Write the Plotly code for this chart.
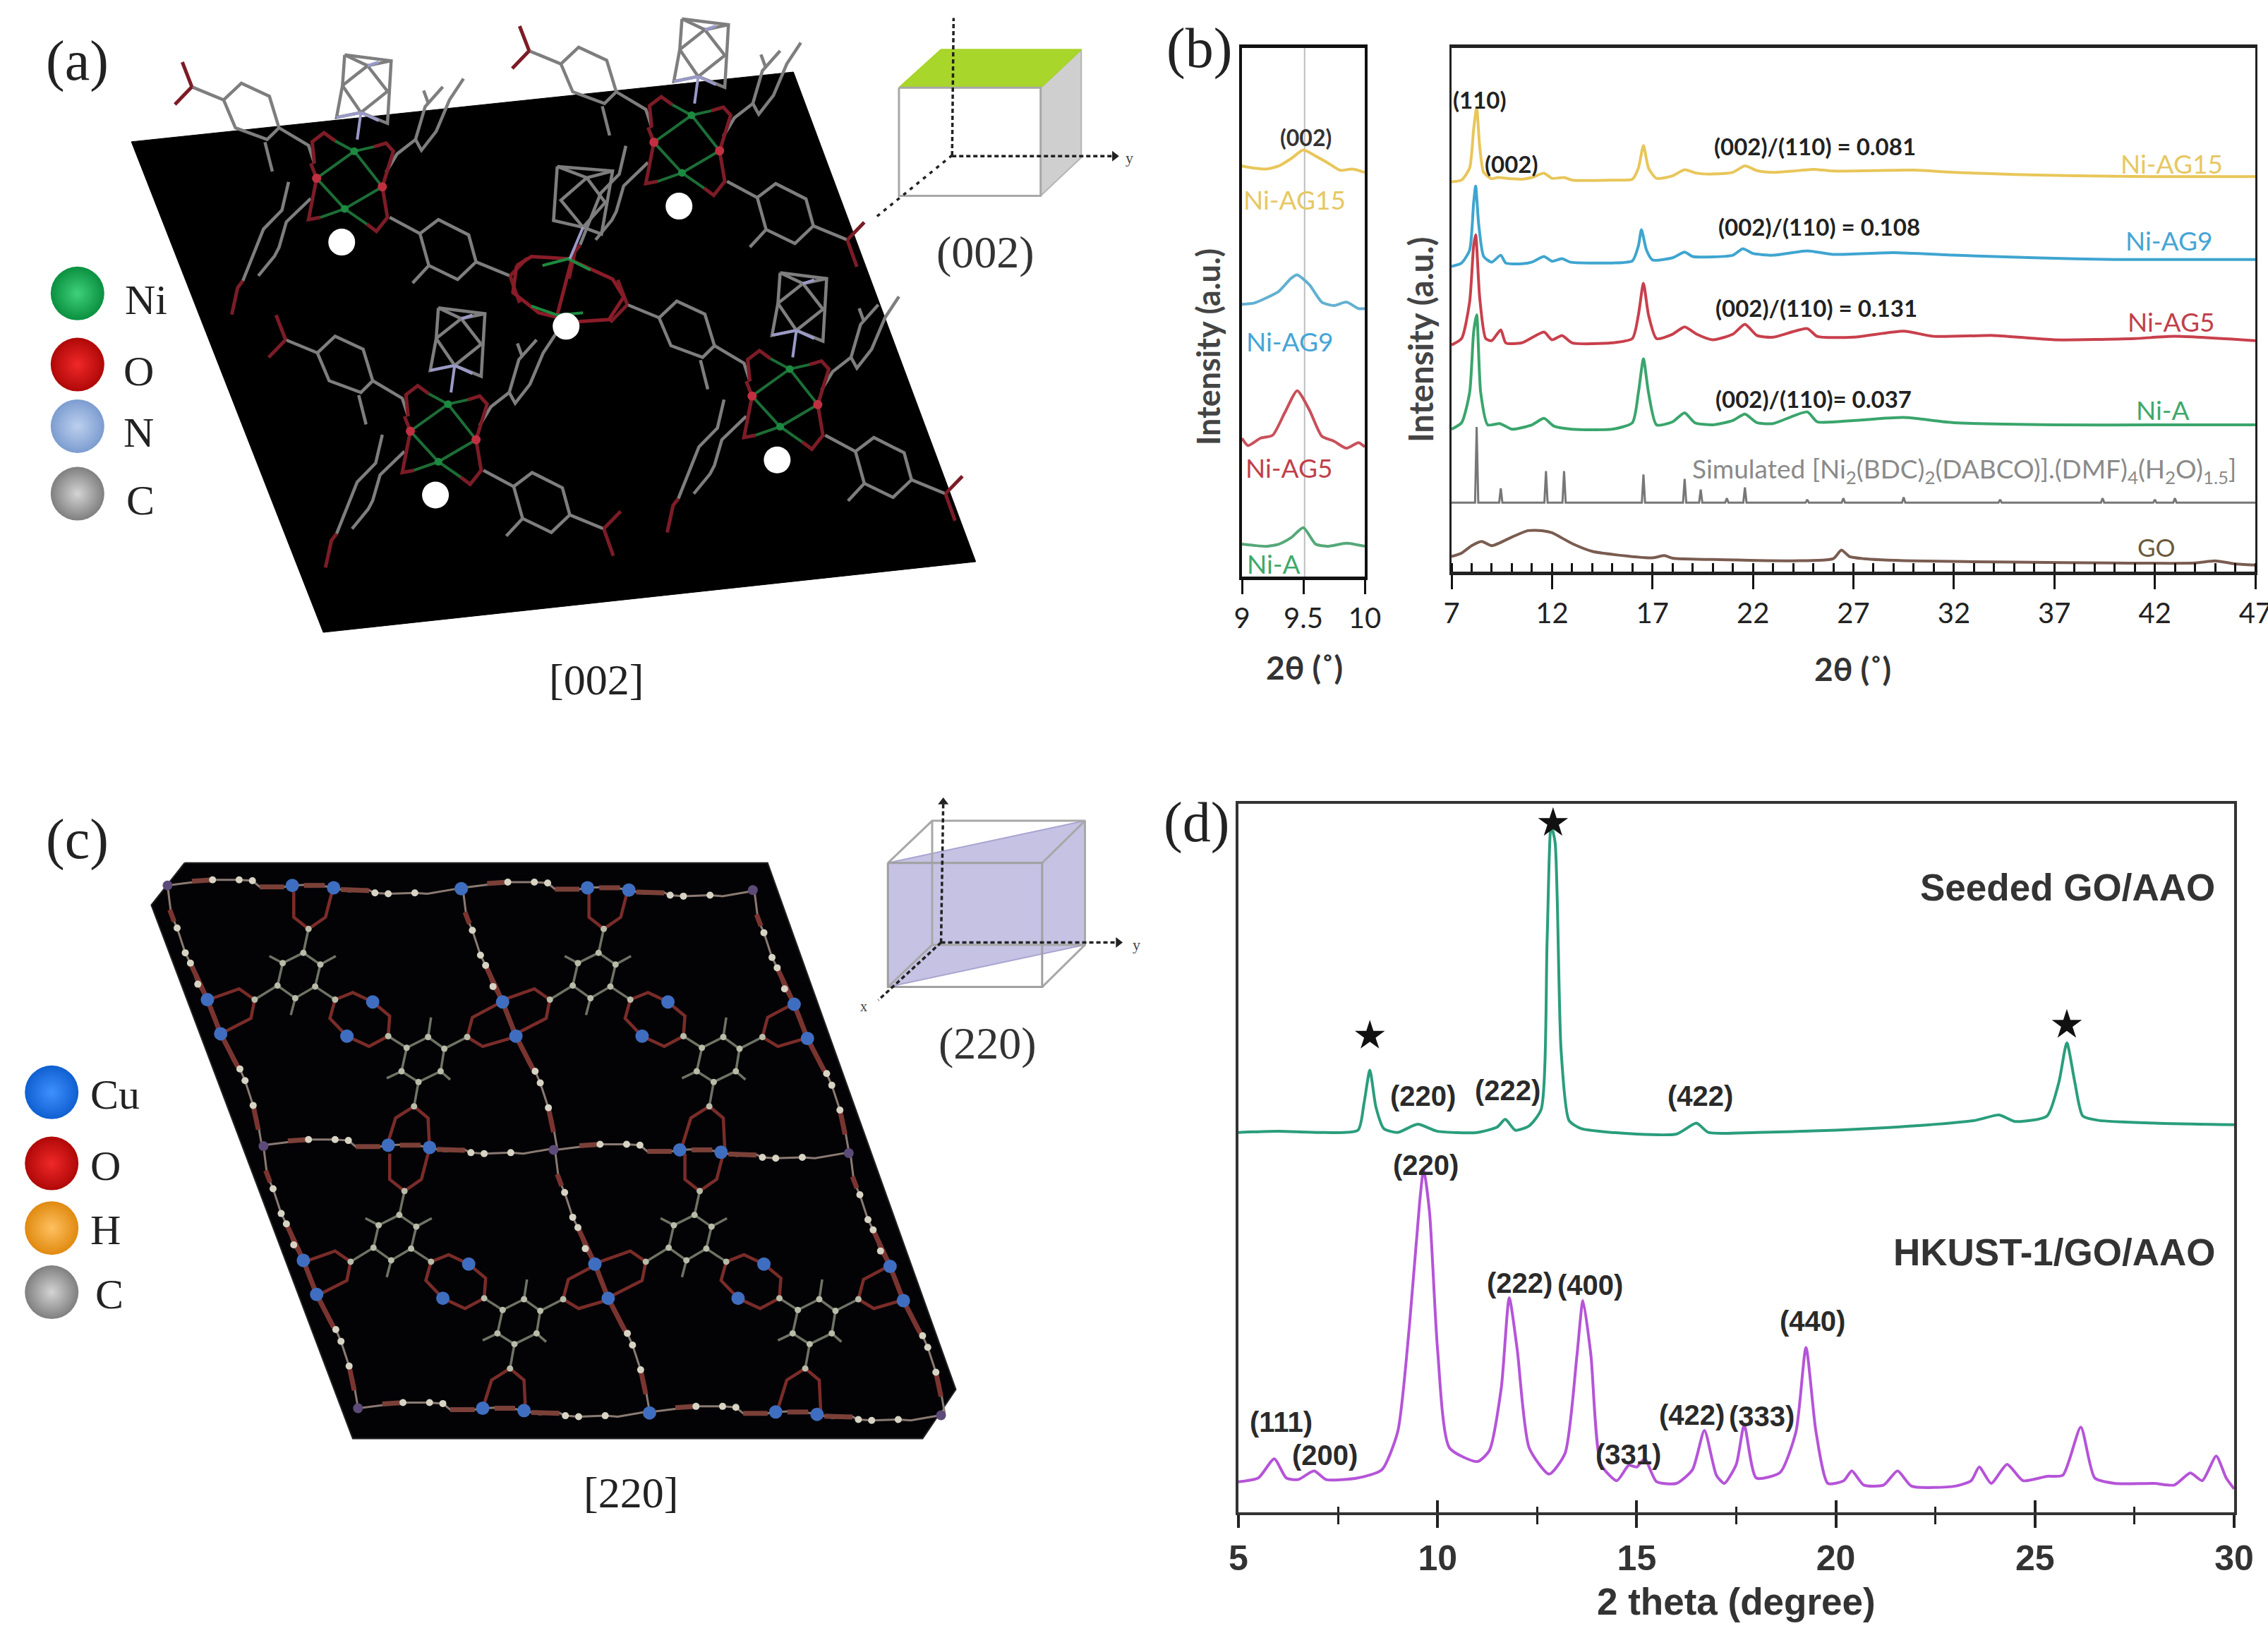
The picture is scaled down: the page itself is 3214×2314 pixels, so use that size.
import plotly.graph_objects as go

W, H = 3214, 2314

# ---------- panel (b), left inset: 2-theta / picture-row readings ----------
bl_ag15_x = [9, 9.1, 9.2, 9.3, 9.4, 9.5, 9.6, 9.7, 9.8, 9.9, 10]
bl_ag15_y = [335, 340, 342, 335, 318, 298, 312, 328, 345, 342, 350]
bl_ag9_x = [9, 9.1, 9.2, 9.3, 9.4, 9.45, 9.55, 9.65, 9.75, 9.85, 9.95, 10]
bl_ag9_y = [655, 652, 640, 625, 595, 587, 610, 650, 658, 650, 665, 665]
bl_ag5_x = [9, 9.05, 9.15, 9.25, 9.35, 9.45, 9.55, 9.65, 9.75, 9.85, 9.95, 10]
bl_ag5_y = [965, 982, 965, 958, 905, 855, 900, 960, 972, 988, 975, 985]
bl_a_x = [9, 9.1, 9.2, 9.3, 9.4, 9.5, 9.6, 9.7, 9.85, 10]
bl_a_y = [1210, 1213, 1215, 1210, 1195, 1172, 1210, 1215, 1208, 1215]
bl_tick_vals = [9, 9.5, 10]
bl_tick_text = ["9", "9.5", "10"]

# ---------- panel (b), main ----------
br_ag15_x = [7, 7.5, 7.9, 8.1, 8.25, 8.4, 8.6, 9, 9.3, 10, 10.5, 11, 11.6, 12, 12.6, 13, 15, 16, 16.3, 16.55, 16.8, 17.2, 18, 18.6, 19.2, 20, 21, 21.6, 22.2, 23, 24.5, 25, 26, 28, 30, 32, 35, 38, 42, 47]
br_ag15_y = [372, 368, 340, 250, 200, 290, 350, 365, 362, 365, 366, 362, 352, 364, 362, 368, 368, 366, 340, 288, 340, 364, 358, 344, 352, 354, 350, 335, 346, 350, 345, 343, 347, 346, 345, 350, 355, 358, 360, 360]
br_ag9_x = [7, 7.5, 7.9, 8.1, 8.2, 8.35, 8.6, 9, 9.45, 9.7, 10.5, 11, 11.6, 12, 12.5, 12.9, 15, 16, 16.3, 16.45, 16.7, 17, 18, 18.6, 19, 20, 21, 21.5, 22, 23, 24.7, 26, 29, 32, 36, 40, 47]
br_ag9_y = [568, 560, 530, 420, 382, 470, 545, 558, 542, 560, 562, 558, 545, 556, 550, 558, 560, 555, 520, 483, 530, 553, 548, 535, 545, 546, 542, 527, 538, 542, 532, 540, 536, 542, 548, 552, 552]
br_ag5_x = [7, 7.5, 7.9, 8.1, 8.2, 8.4, 8.7, 9, 9.45, 9.7, 10.5, 11.6, 12, 12.5, 13, 15, 16, 16.3, 16.55, 16.8, 17.2, 18, 18.6, 19.2, 20, 21, 21.6, 22.2, 23, 24.7, 25.2, 27, 29.5, 31, 34, 37, 41, 43, 47]
br_ag5_y = [750, 735, 650, 520, 495, 640, 735, 740, 715, 745, 745, 720, 738, 728, 745, 745, 735, 680, 607, 680, 735, 725, 708, 725, 738, 725, 702, 728, 732, 712, 730, 732, 718, 730, 728, 738, 735, 730, 740]
br_a_x = [7, 7.5, 7.9, 8.1, 8.25, 8.45, 8.8, 9.4, 10, 11, 11.6, 12.1, 13, 15, 16, 16.3, 16.55, 16.8, 17.2, 18, 18.6, 19.1, 20, 21, 21.6, 22.2, 23, 24.7, 25.2, 27, 29.5, 32, 37, 42, 47]
br_a_y = [945, 930, 860, 720, 680, 860, 935, 932, 945, 935, 920, 938, 945, 945, 930, 860, 782, 860, 935, 928, 907, 930, 935, 925, 910, 930, 932, 905, 928, 925, 918, 930, 935, 935, 935]
br_sim_x = [7, 8.17, 8.25, 8.33, 9.37, 9.45, 9.53, 11.62, 11.7, 11.78, 12.52, 12.6, 12.68, 16.47, 16.55, 16.63, 18.52, 18.6, 18.68, 19.32, 19.4, 19.48, 20.62, 20.7, 20.78, 21.52, 21.6, 21.68, 24.62, 24.7, 24.78, 26.42, 26.5, 26.58, 29.42, 29.5, 29.58, 34.22, 34.3, 34.38, 39.32, 39.4, 39.48, 41.92, 42, 42.08, 42.92, 43, 43.08, 47]
br_sim_y = [1115, 1115, 940, 1115, 1115, 1082, 1115, 1115, 1042, 1115, 1115, 1042, 1115, 1115, 1050, 1115, 1115, 1060, 1115, 1115, 1085, 1115, 1115, 1105, 1115, 1115, 1080, 1115, 1115, 1108, 1115, 1115, 1105, 1115, 1115, 1103, 1115, 1115, 1108, 1115, 1115, 1105, 1115, 1115, 1108, 1115, 1115, 1105, 1115, 1115]
br_go_x = [7, 7.5, 8, 8.5, 9, 10, 10.8, 11.5, 12, 13, 14, 15, 17, 17.6, 18, 20, 24, 26, 26.4, 26.8, 27.5, 30, 35, 40, 44, 45, 46, 47]
br_go_y = [1240, 1232, 1215, 1205, 1215, 1195, 1180, 1180, 1185, 1210, 1228, 1235, 1243, 1238, 1244, 1247, 1250, 1245, 1225, 1240, 1245, 1250, 1253, 1255, 1255, 1250, 1257, 1260]
br_tick_vals = [7, 12, 17, 22, 27, 32, 37, 42, 47]

# ---------- panel (d) ----------
d_seed_x = [5, 6, 7, 8, 8.15, 8.3, 8.45, 8.65, 9, 9.5, 10, 11, 11.5, 11.7, 11.95, 12.3, 12.6, 12.75, 12.85, 12.95, 13.1, 13.3, 13.6, 15, 16, 16.5, 16.8, 18, 20, 22, 23.5, 24.1, 24.5, 25.3, 25.6, 25.8, 26, 26.2, 26.6, 28, 30]
d_seed_y = [652, 650, 652, 648, 600, 538, 605, 645, 652, 637, 650, 652, 642, 628, 648, 640, 610, 300, 90, 120, 500, 630, 645, 655, 655, 635, 652, 652, 648, 640, 630, 620, 632, 622, 560, 488, 560, 622, 630, 635, 638]
d_hk_x = [5, 5.5, 5.9, 6.2, 6.5, 6.9, 7.2, 8, 8.6, 9, 9.3, 9.55, 9.65, 9.8, 10, 10.3, 11, 11.3, 11.6, 11.8, 12, 12.3, 12.8, 13.2, 13.5, 13.65, 13.85, 14.1, 14.5, 14.8, 15, 15.2, 15.5, 16, 16.4, 16.7, 17, 17.2, 17.5, 17.7, 18, 18.6, 19, 19.25, 19.5, 19.8, 20.2, 20.4, 20.7, 21.2, 21.55, 21.9, 23, 23.4, 23.6, 23.9, 24.3, 24.7, 25.3, 25.7, 26.15, 26.5, 27, 28, 28.5, 28.9, 29.2, 29.55, 29.8, 30]
d_hk_y = [1292, 1285, 1250, 1285, 1288, 1272, 1288, 1285, 1270, 1200, 1000, 780, 720, 800, 1050, 1230, 1255, 1235, 1120, 955, 1050, 1230, 1278, 1240, 1060, 960, 1060, 1260, 1290, 1262, 1265, 1250, 1292, 1295, 1270, 1198, 1280, 1295, 1260, 1188, 1285, 1275, 1200, 1046, 1200, 1295, 1290, 1272, 1298, 1298, 1272, 1300, 1300, 1290, 1265, 1295, 1260, 1290, 1282, 1280, 1192, 1285, 1295, 1295, 1298, 1276, 1290, 1245, 1285, 1305]
d_star_x = [8.3, 12.9, 25.8]
d_star_y = [475, 85, 455]
d_tick_vals = [5, 10, 15, 20, 25, 30]
d_labels = ["(220)", "(222)", "(422)", "(220)", "(222)", "(400)", "(440)", "(111)", "(200)", "(331)", "(422)", "(333)"]
d_labels_x = [9.63, 11.76, 16.6, 9.7, 12.06, 13.84, 19.41, 6.07, 7.17, 14.79, 16.39, 18.13]
d_labels_y = [585, 575, 585, 712, 928, 932, 998, 1183, 1243, 1242, 1170, 1172]

# ---------- panel (a) sketch ----------
a_plate_x = [178, 1075, 1322, 438, 178]
a_plate_y = [315, 160, 1248, 1405, 315]
a_unit_dx = [0, -127, 330, 463]
a_unit_dy = [0, -562, -642, -78]
a_gray = [
    [(505, 846), (489, 872), (446, 846), (430, 784), (454, 747), (492, 776), (505, 846)],
    [(505, 846), (545, 885), (553, 925)], [(430, 784), (387, 755)], [(486, 878), (496, 943)],
    [(696, 1081), (721, 1050), (762, 1084), (772, 1144), (747, 1183), (708, 1152), (696, 1081)],
    [(655, 1045), (696, 1081)], [(772, 1144), (818, 1175)], [(708, 1152), (686, 1191)],
    [(548, 1003), (515, 1055), (505, 1112), (499, 1131), (477, 1175)],
    [(518, 966), (509, 1029), (484, 1071), (456, 1186)],
    [(650, 945), (665, 904), (690, 872), (703, 799), (727, 755)], [(701, 763), (707, 790)],
    [(690, 872), (698, 896), (718, 854), (736, 784), (755, 737)],
    [(594, 684), (657, 697), (652, 836), (616, 812), (583, 823), (591, 752), (594, 684)],
    [(594, 684), (625, 708), (657, 697)], [(591, 752), (625, 708), (652, 765), (616, 812), (591, 752)],
]
a_red = [
    [(818, 1175), (841, 1136)], [(818, 1175), (831, 1235)],
    [(387, 755), (374, 700)], [(387, 755), (364, 794)], [(456, 1186), (449, 1201), (441, 1261)],
    [(553, 925), (550, 877), (566, 857), (581, 875)], [(634, 888), (650, 880), (660, 898), (645, 977)],
    [(556, 958), (545, 1050), (561, 1045)], [(624, 1060), (637, 1076), (652, 1045), (645, 977)],
    [(556, 958), (548, 925)],
]
a_green = [
    [(556, 958), (607, 898), (645, 977)], [(581, 875), (607, 898), (634, 888)],
    [(556, 958), (594, 1026), (645, 977)], [(561, 1045), (594, 1026), (624, 1060)],
]
a_lav = [[(625, 708), (640, 700)], [(616, 812), (583, 823)], [(616, 812), (640, 830)], [(616, 812), (611, 872)]]
a_center_red = [[(700, 590), (720, 570), (770, 575), (830, 620), (845, 660), (825, 710), (780, 715), (730, 695), (695, 650), (700, 590)], [(775, 575), (755, 700)]]
a_center_green = [[(735, 590), (770, 575), (800, 600)], [(720, 680), (755, 700), (790, 695)]]
a_center_gray = [[(755, 370), (830, 380), (815, 520), (790, 505), (750, 490), (755, 370)], [(755, 370), (795, 395), (830, 380)], [(795, 395), (760, 445), (790, 505), (820, 450), (795, 395)]]
a_center_lav = [[(790, 505), (772, 575)]]
a_oxy_x = [556, 645]
a_oxy_y = [958, 977]
a_ni_x = [607, 594]
a_ni_y = [898, 1026]
a_dots_x = [590, 463, 920, 1053, 767]
a_dots_y = [1100, 538, 458, 1022, 725]
a_sph_name = ["Ni", "O", "N", "C"]
a_sph_core = ["#3fd07a", "#f02828", "#bcd0ee", "#d4d4d4"]
a_sph_rim = ["#0a9040", "#b00808", "#7c9cd0", "#7f7f7f"]
a_sph_y = [652, 810, 947, 1097]
a_name_x = [198, 188, 188, 190]
a_cube_front_x = [1218, 1410, 1410, 1218, 1218]
a_cube_front_y = [195, 195, 435, 435, 195]
a_cube_top_x = [1218, 1410, 1465, 1275, 1218]
a_cube_top_y = [195, 195, 110, 110, 195]
a_cube_side_x = [1410, 1465, 1465, 1410, 1410]
a_cube_side_y = [195, 110, 350, 435, 195]

# ---------- panel (c) sketch ----------
c_plate_x = [250, 1040, 1295, 1250, 478, 205, 250]
c_plate_y = [155, 155, 1280, 1385, 1385, 245, 155]
c_cell_dx = [0, 400, 130, 530]
c_cell_dy = [0, 0, 560, 560]
c_row_dx = [0, 400, 130, 525, 258, 655]
c_row_dy = [0, 5, 555, 565, 1117, 1125]
c_col_dx = [0, 400, 795, 130, 525, 925]
c_col_dy = [0, 5, 10, 557, 565, 570]
c_chain_h = [(227, 203), (288, 191), (324, 191), (342, 193), (352, 206), (385, 206), (396, 203), (426, 201), (452, 208), (473, 216), (497, 211), (508, 219), (526, 221), (562, 219), (579, 221), (623, 209)]
c_chain_v = [(227, 203), (232, 266), (240, 294), (251, 347), (258, 369), (268, 414), (281, 447), (289, 482), (299, 520), (316, 578), (325, 595), (332, 620), (343, 673), (348, 698), (355, 761)]
c_thick_h = [[(352, 206), (385, 206)], [(412, 203), (440, 203)], [(462, 212), (500, 214)], [(288, 191), (260, 194)]]
c_thick_v = [[(258, 369), (281, 447)], [(281, 447), (299, 520)], [(299, 520), (322, 590)], [(343, 673), (350, 725)], [(230, 255), (236, 280)]]
c_hex = [
    [(411, 347), (383, 369), (376, 417), (400, 444), (427, 419), (434, 372), (411, 347)],
    [(411, 347), (418, 296)], [(376, 417), (345, 447)], [(427, 419), (454, 447)],
    [(383, 369), (365, 354)], [(434, 372), (455, 354)], [(400, 444), (394, 480)],
    [(551, 550), (580, 527), (602, 552), (597, 600), (567, 623), (544, 600), (551, 550)],
    [(551, 550), (526, 525)], [(602, 552), (633, 527)], [(567, 623), (561, 675)],
    [(580, 527), (584, 485)], [(597, 600), (610, 618)], [(544, 600), (524, 615)],
]
c_red = [
    [(418, 296), (398, 271), (398, 216)], [(418, 296), (441, 271), (450, 216)],
    [(345, 447), (324, 424), (283, 447)], [(345, 447), (340, 487), (299, 520)],
    [(454, 447), (478, 432), (505, 452)], [(454, 447), (447, 487), (470, 525)],
    [(505, 452), (528, 482), (526, 525)], [(470, 525), (500, 547), (526, 525)],
    [(633, 527), (640, 485), (677, 454)], [(633, 527), (654, 547), (697, 527)],
    [(561, 675), (536, 700), (523, 766)], [(561, 675), (580, 700), (582, 766)],
]
c_blue_h_x = [396, 452]
c_blue_h_y = [203, 208]
c_blue_v_x = [281, 299]
c_blue_v_y = [447, 520]
c_blue_cell_x = [505, 470]
c_blue_cell_y = [452, 525]
c_blue_mid_x = [625, 880]
c_blue_mid_y = [210, 1330]
c_bead_h_x = [288, 324, 342, 508, 526, 562]
c_bead_h_y = [191, 191, 193, 219, 221, 219]
c_bead_v_x = [240, 251, 258, 268, 325, 332, 343]
c_bead_v_y = [294, 347, 369, 414, 595, 620, 673]
c_bead_cell_x = [411, 383, 376, 400, 427, 434, 418, 345, 454, 551, 580, 602, 597, 567, 544, 526, 633, 561]
c_bead_cell_y = [347, 369, 417, 444, 419, 372, 296, 447, 447, 550, 527, 552, 600, 623, 600, 525, 527, 675]
c_node_x = [227, 1020, 357, 750, 1150, 485, 1275]
c_node_y = [203, 213, 760, 768, 775, 1320, 1335]
c_sph_name = ["Cu", "O", "H", "C"]
c_sph_core = ["#3f90ff", "#f02828", "#ffc060", "#d4d4d4"]
c_sph_rim = ["#0f5fd0", "#b00808", "#e08a10", "#7f7f7f"]
c_sph_y = [645, 797, 935, 1072]
c_name_x = [156, 143, 143, 148]
c_cube_front_x = [1203, 1412, 1412, 1203, 1203]
c_cube_front_y = [155, 155, 420, 420, 155]
c_plane_x = [1203, 1470, 1470, 1203, 1203]
c_plane_y = [155, 65, 330, 420, 155]
c_cube_back = [[(1203, 155), (1263, 65), (1470, 65), (1412, 155)], [(1470, 65), (1470, 330), (1412, 420)], [(1263, 65), (1263, 330)], [(1263, 330), (1470, 330)], [(1263, 330), (1203, 420)]]


def polys(lines, dx=(0,), dy=(0,)):
    xs, ys = [], []
    for ox, oy in zip(dx, dy):
        for ln in lines:
            xs += [p[0] + ox for p in ln] + [None]
            ys += [p[1] + oy for p in ln] + [None]
    return xs, ys


def repeat(vals, offs):
    return [v + o for o in offs for v in vals]


fig = go.Figure()


def line(x, y, color, width, xa, ya, dash="solid", fill=None, fillcolor=None, smooth=False):
    ls = dict(color=color, width=width, dash=dash)
    if smooth:
        ls.update(shape="spline", smoothing=0.6)
    fig.add_trace(go.Scatter(x=x, y=y, mode="lines", xaxis=xa, yaxis=ya, line=ls,
                             fill=fill, fillcolor=fillcolor, hoverinfo="skip"))


def dots(x, y, color, size, xa, ya, symbol="circle", gradient=None):
    m = dict(color=color, size=size, symbol=symbol, line=dict(width=0))
    if gradient:
        m["gradient"] = dict(type="radial", color=gradient)
    fig.add_trace(go.Scatter(x=x, y=y, mode="markers", xaxis=xa, yaxis=ya, marker=m, hoverinfo="skip"))


notes = []


def note(x, y, text, size, color="#222", xref="x", yref="y", family="Lato", anchor="center", angle=0):
    notes.append(dict(x=x, y=y, text=text, xref=xref, yref=yref, showarrow=False, xanchor=anchor,
                      yanchor="middle", textangle=angle, font=dict(family=family, size=size, color=color)))


SERIF = "Liberation Serif"
SANS = "Liberation Sans"

# --- panel (a): axes x5/y5
line(a_plate_x, a_plate_y, "black", 1, "x5", "y5", fill="toself", fillcolor="black")
for group, col, wid in [(a_gray, "#7e7e7e", 4.5), (a_red, "#7c1c26", 5), (a_green, "#1c6e36", 4), (a_lav, "#9a9ac8", 4)]:
    gx, gy = polys(group, a_unit_dx, a_unit_dy)
    line(gx, gy, col, wid, "x5", "y5")
dots(repeat(a_oxy_x, a_unit_dx), [y + o for o in a_unit_dy for y in a_oxy_y], "#c03040", 13, "x5", "y5")
dots(repeat(a_ni_x, a_unit_dx), [y + o for o in a_unit_dy for y in a_ni_y], "#1c8a40", 11, "x5", "y5")
gx, gy = polys(a_center_gray)
line(gx, gy, "#7e7e7e", 4.5, "x5", "y5")
gx, gy = polys(a_center_red)
line(gx, gy, "#8a1c28", 5, "x5", "y5")
gx, gy = polys(a_center_green)
line(gx, gy, "#1c8a40", 4, "x5", "y5")
gx, gy = polys(a_center_lav)
line(gx, gy, "#9a9ac8", 4, "x5", "y5")
dots(a_dots_x, a_dots_y, "white", 38, "x5", "y5")
for core, rim, sy in zip(a_sph_core, a_sph_rim, a_sph_y):
    dots([105], [sy], rim, 76, "x5", "y5", gradient=core)
for n, nx, ny in zip(a_sph_name, a_name_x, a_sph_y):
    note(nx, ny + 14, n, 60, "#222", "x5", "y5", SERIF)
line(a_cube_side_x, a_cube_side_y, "#b5b5b5", 2, "x5", "y5", fill="toself", fillcolor="#cfcfcf")
line(a_cube_top_x, a_cube_top_y, "#a8d42a", 2, "x5", "y5", fill="toself", fillcolor="#a9d62a")
line(a_cube_front_x, a_cube_front_y, "#a8a8a8", 3, "x5", "y5")
line([1290, 1292], [345, 40], "#222", 3.5, "x5", "y5", dash="6px,4px")
line([1290, 1510], [347, 347], "#222", 3.5, "x5", "y5", dash="6px,4px")
line([1290, 1185], [345, 485], "#222", 3.5, "x5", "y5", dash="5px,7px")
dots([1510], [347], "#222", 13, "x5", "y5", symbol="triangle-right")
note(1530, 350, "y", 22, "#444", "x5", "y5", SERIF)
note(105, 135, "(a)", 80, "#222", "x5", "y5", SERIF)
note(808, 1510, "[002]", 62, "#222", "x5", "y5", SERIF)
note(1335, 560, "(002)", 64, "#333", "x5", "y5", SERIF)

# --- panel (c): axes x6/y6
line(c_plate_x, c_plate_y, "#222", 2, "x6", "y6", fill="toself", fillcolor="#030306")
gx, gy = polys(c_red, c_cell_dx, c_cell_dy)
line(gx, gy, "#7a2c28", 4.5, "x6", "y6")
gx, gy = polys([c_chain_h], c_row_dx, c_row_dy)
line(gx, gy, "#8a7a72", 3, "x6", "y6")
gx, gy = polys([c_chain_v], c_col_dx, c_col_dy)
line(gx, gy, "#8a7a72", 3, "x6", "y6")
gx, gy = polys(c_thick_h, c_row_dx, c_row_dy)
line(gx, gy, "#7a4038", 7, "x6", "y6")
gx, gy = polys(c_thick_v, c_col_dx, c_col_dy)
line(gx, gy, "#7a3430", 7, "x6", "y6")
gx, gy = polys(c_hex, c_cell_dx, c_cell_dy)
line(gx, gy, "#6e7464", 3.5, "x6", "y6")
dots(repeat(c_bead_h_x, c_row_dx), [y + o for o in c_row_dy for y in c_bead_h_y], "#d8d4c4", 10, "x6", "y6")
dots(repeat(c_bead_v_x, c_col_dx), [y + o for o in c_col_dy for y in c_bead_v_y], "#d8d4c4", 10, "x6", "y6")
dots(repeat(c_bead_cell_x, c_cell_dx), [y + o for o in c_cell_dy for y in c_bead_cell_y], "#b8bcA8", 9, "x6", "y6")
dots(repeat(c_blue_h_x, c_row_dx), [y + o for o in c_row_dy for y in c_blue_h_y], "#3f6ec0", 19, "x6", "y6")
dots(repeat(c_blue_v_x, c_col_dx), [y + o for o in c_col_dy for y in c_blue_v_y], "#3f6ec0", 19, "x6", "y6")
dots(repeat(c_blue_cell_x, c_cell_dx), [y + o for o in c_cell_dy for y in c_blue_cell_y], "#3f6ec0", 19, "x6", "y6")
dots(c_blue_mid_x, c_blue_mid_y, "#3f6ec0", 19, "x6", "y6")
dots(c_node_x, c_node_y, "#5c4a78", 14, "x6", "y6")
for core, rim, sy in zip(c_sph_core, c_sph_rim, c_sph_y):
    dots([70], [sy], rim, 76, "x6", "y6", gradient=core)
for n, nx, ny in zip(c_sph_name, c_name_x, c_sph_y):
    note(nx, ny + 5, n, 60, "#222", "x6", "y6", SERIF)
line(c_plane_x, c_plane_y, "#a8a4d0", 2, "x6", "y6", fill="toself", fillcolor="#c6c2e4")
gx, gy = polys(c_cube_back)
line(gx, gy, "#a8a8a8", 3, "x6", "y6")
line(c_cube_front_x, c_cube_front_y, "#a0a0a0", 3, "x6", "y6")
line([1275, 1278], [325, 25], "#222", 3.5, "x6", "y6", dash="6px,4px")
line([1275, 1515], [325, 325], "#222", 3.5, "x6", "y6", dash="6px,4px")
line([1275, 1190], [325, 448], "#222", 3.5, "x6", "y6", dash="6px,4px")
dots([1515], [325], "#222", 13, "x6", "y6", symbol="triangle-right")
dots([1278], [25], "#222", 13, "x6", "y6", symbol="triangle-up")
note(1540, 330, "y", 22, "#444", "x6", "y6", SERIF)
note(1170, 462, "x", 20, "#444", "x6", "y6", SERIF)
note(105, 105, "(c)", 80, "#222", "x6", "y6", SERIF)
note(855, 1500, "[220]", 62, "#222", "x6", "y6", SERIF)
note(1338, 540, "(220)", 64, "#333", "x6", "y6", SERIF)

# --- panel (b) left inset
YEL, BLU, RED, GRN = "#e8c65a", "#62b0d0", "#c8505a", "#55a878"
line([9.51, 9.51], [62, 1285], "#bdbdbd", 2, "x", "y")
line(bl_ag15_x, bl_ag15_y, YEL, 4, "x", "y", smooth=True)
line(bl_ag9_x, bl_ag9_y, BLU, 4, "x", "y", smooth=True)
line(bl_ag5_x, bl_ag5_y, RED, 4, "x", "y", smooth=True)
line(bl_a_x, bl_a_y, GRN, 4, "x", "y", smooth=True)
note(9.52, 268, "<b>(002)</b>", 32, "#333")
note(9.43, 412, "Ni-AG15", 37, "#e6c862")
note(9.39, 740, "Ni-AG9", 37, "#45a5d6")
note(9.38, 1032, "Ni-AG5", 37, "#c0404a")
note(9.26, 1255, "Ni-A", 37, "#3fa86a")
note(1848 / W, 1 - 945 / H, "<b>2θ (˚)</b>", 46, "#333", "paper", "paper")

# --- panel (b) main
line(br_ag15_x, br_ag15_y, YEL, 4, "x2", "y2", smooth=True)
line(br_ag9_x, br_ag9_y, "#3fa5d0", 4, "x2", "y2", smooth=True)
line(br_ag5_x, br_ag5_y, "#c8404c", 4, "x2", "y2", smooth=True)
line(br_a_x, br_a_y, "#3aa56c", 4, "x2", "y2", smooth=True)
line(br_sim_x, br_sim_y, "#777777", 3, "x2", "y2")
line(br_go_x, br_go_y, "#7a5c50", 4, "x2", "y2", smooth=True)
note(8.4, 182, "<b>(110)</b>", 33, "#222", "x2", "y2")
note(10, 330, "<b>(002)</b>", 33, "#222", "x2", "y2")
note(25.1, 290, "<b>(002)/(110) = 0.081</b>", 33, "#222", "x2", "y2")
note(25.3, 476, "<b>(002)/(110) = 0.108</b>", 33, "#222", "x2", "y2")
note(25.15, 664, "<b>(002)/(110) = 0.131</b>", 33, "#222", "x2", "y2")
note(25, 875, "<b>(002)/(110)= 0.037</b>", 33, "#222", "x2", "y2")
note(42.85, 330, "Ni-AG15", 37, "#e6c862", "x2", "y2")
note(42.7, 508, "Ni-AG9", 37, "#45a5d6", "x2", "y2")
note(42.8, 695, "Ni-AG5", 37, "#c0404a", "x2", "y2")
note(42.4, 900, "Ni-A", 37, "#3fa86a", "x2", "y2")
note(32.5, 1040, "Simulated [Ni<sub>2</sub>(BDC)<sub>2</sub>(DABCO)].(DMF)<sub>4</sub>(H<sub>2</sub>O)<sub>1.5</sub>]", 37, "#8a8a8a", "x2", "y2")
note(42.1, 1218, "GO", 35, "#6b5a3a", "x2", "y2")
note(1700 / W, 1 - 68 / H, "(b)", 80, "#222", "paper", "paper", SERIF)
note(2625 / W, 1 - 948 / H, "<b>2θ (˚)</b>", 46, "#333", "paper", "paper")
note(1712 / W, 1 - 492 / H, "<b>Intensity (a.u.)</b>", 45, "#444", "paper", "paper", angle=-90)
note(2013 / W, 1 - 482 / H, "<b>Intensity (a.u.)</b>", 47, "#444", "paper", "paper", angle=-90)

# --- panel (d)
line(d_seed_x, d_seed_y, "#2a9d7c", 4, "x3", "y3", smooth=True)
line(d_hk_x, d_hk_y, "#b554d8", 4, "x3", "y3", smooth=True)
line([5, 30], [1348, 1348], "rgba(0,0,0,0)", 1, "x4", "y3")
dots(d_star_x, d_star_y, "#111", 32, "x3", "y3", symbol="star")
for t, lx, ly in zip(d_labels, d_labels_x, d_labels_y):
    note(lx, ly, "<b>" + t + "</b>", 40, "#2a2a2a", "x3", "y3", SANS)
note(29.55, 203, "<b>Seeded GO/AAO</b>", 53, "#333", "x3", "y3", SANS, "right")
note(29.55, 872, "<b>HKUST-1/GO/AAO</b>", 53, "#333", "x3", "y3", SANS, "right")
note(17.5, 1 - 2269 / H, "<b>2 theta (degree)</b>", 53, "#333", "x3", "paper", SANS)
note(1695 / W, 1 - 1165 / H, "(d)", 80, "#222", "paper", "paper", SERIF)


def dom_x(a, b):
    return [a / W, b / W]


def dom_y(top, bot):
    return [1 - bot / H, 1 - top / H]


hidden = dict(visible=False, showgrid=False, zeroline=False, automargin=False)
bfont = dict(family="Lato", size=40, color="#222")
dfont = dict(family=SANS, size=50, color="#333", weight="bold")

fig.update_layout(
    width=W, height=H, autosize=False, showlegend=False,
    margin=dict(l=0, r=0, t=0, b=0, pad=0, autoexpand=False),
    paper_bgcolor="white", plot_bgcolor="rgba(0,0,0,0)",
    annotations=notes,
    xaxis=dict(domain=dom_x(1760, 1934), range=[9, 10], tickvals=bl_tick_vals, ticktext=bl_tick_text,
               ticks="outside", ticklen=20, tickwidth=3, tickcolor="#111", linecolor="#111", linewidth=5, mirror=True,
               showgrid=False, zeroline=False, tickfont=bfont, anchor="y", automargin=False),
    yaxis=dict(domain=dom_y(68, 817), range=[1285, 62], showticklabels=False, ticks="", linecolor="#111", linewidth=4,
               mirror=True, showgrid=False, zeroline=False, anchor="x", automargin=False),
    xaxis2=dict(domain=dom_x(2057, 3196), range=[7, 47], tickvals=br_tick_vals, ticks="outside", ticklen=20, tickwidth=3,
                tickcolor="#111", linecolor="#222", linewidth=5, mirror=True, showgrid=False, zeroline=False, tickfont=bfont,
                ticklabeloverflow="allow", minor=dict(dtick=1, tick0=7, ticks="inside", ticklen=12, tickwidth=3, tickcolor="#111"),
                anchor="y2", automargin=False),
    yaxis2=dict(domain=dom_y(68, 810), range=[1275, 62], showticklabels=False, ticks="", linecolor="#222", linewidth=3,
                mirror=True, showgrid=False, zeroline=False, anchor="x2", automargin=False),
    xaxis3=dict(domain=dom_x(1755, 3166), range=[5, 30], tickvals=d_tick_vals, ticks="outside", ticklen=18, tickwidth=4,
                tickcolor="#222", linecolor="#333", linewidth=4, mirror=True, showgrid=False, zeroline=False, tickfont=dfont,
                ticklabeloverflow="allow", minor=dict(dtick=2.5, tick0=5, ticks="outside", ticklen=13, tickwidth=3, tickcolor="#222"),
                anchor="y3", automargin=False),
    xaxis4=dict(domain=dom_x(1755, 3166), range=[5, 30], overlaying="x3", tickvals=d_tick_vals, ticks="inside", ticklen=17, tickwidth=4,
                tickcolor="#222", showticklabels=False, showline=False, showgrid=False, zeroline=False,
                minor=dict(dtick=2.5, tick0=5, ticks="inside", ticklen=8, tickwidth=3, tickcolor="#222"),
                anchor="y3", automargin=False),
    yaxis3=dict(domain=dom_y(1139, 2143), range=[1348, 50], showticklabels=False, ticks="", linecolor="#333", linewidth=4,
                mirror=True, showgrid=False, zeroline=False, anchor="x3", automargin=False),
    xaxis5=dict(domain=dom_x(0, 1640), range=[0, 1568], anchor="y5", **hidden),
    yaxis5=dict(domain=dom_y(0, 1000), range=[1568, 0], anchor="x5", **hidden),
    xaxis6=dict(domain=dom_x(0, 1640), range=[0, 1568], anchor="y6", **hidden),
    yaxis6=dict(domain=dom_y(1120, 2160), range=[1568, 0], anchor="x6", **hidden),
)

fig.write_html("out.html", config={"displayModeBar": False}, post_script="document.body.style.margin='0';")
